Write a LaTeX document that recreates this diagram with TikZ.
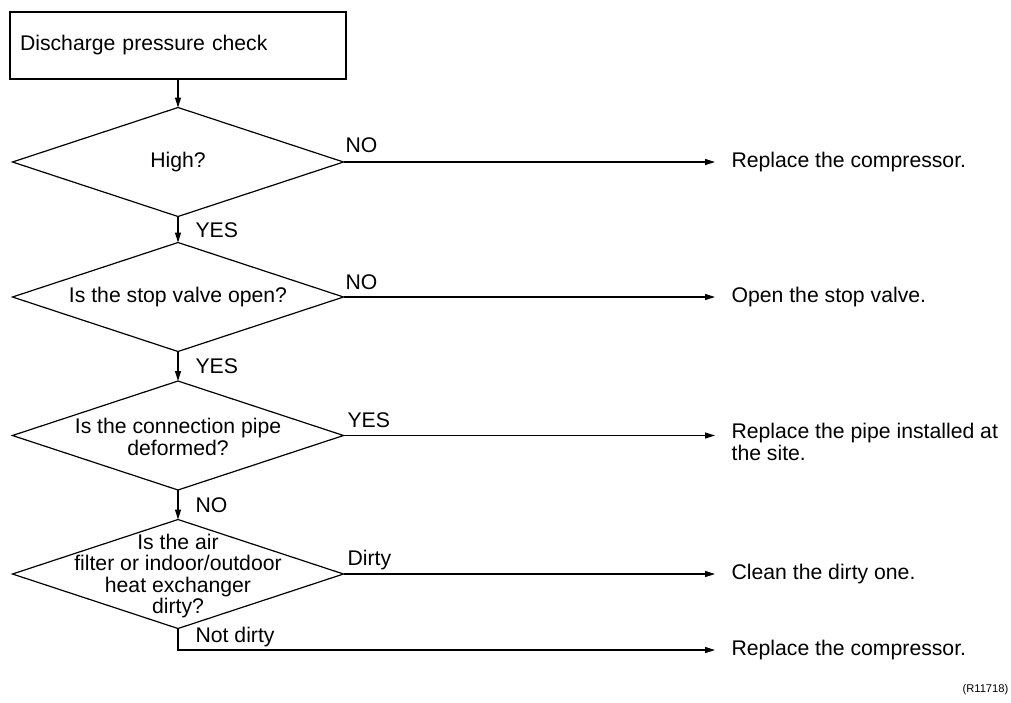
\documentclass[tikz,border=0pt]{standalone}
\usepackage{fontspec}
\setmainfont{Liberation Sans}
\usetikzlibrary{shapes.geometric,arrows.meta}
\begin{document}
\begin{tikzpicture}[x=0.5pt,y=-0.5pt,
  font=\fontsize{10.6}{10.6}\selectfont,
  line width=0.6pt,
  startbox/.style={draw, minimum height=33.5pt, text width=158pt, inner xsep=5pt, inner ysep=0pt, align=left, outer sep=0pt},
  dia/.style={draw, diamond, minimum width=165.5pt, minimum height=54.5pt, inner sep=0pt, outer sep=0pt},
  qtext/.style={align=center, inner sep=0pt},
  result/.style={anchor=west, inner xsep=8pt, inner ysep=0pt, align=left},
  lbl/.style={anchor=west, inner sep=0pt},
  arr/.style={-{Triangle[length=5pt,width=3pt]}}]
\useasboundingbox (0,0) rectangle (1011,702);

\node[startbox] (start) at (178,45.5) {Discharge pressure check};

\node[dia] (d1) at (178,162) {};
\node[qtext] (t1) at (d1) {High?};
\node[dia] (d2) at (178,297) {};
\node[qtext] (t2) at (d2) {Is the stop valve open?};
\node[dia] (d3) at (178,435.5) {};
\node[qtext] (t3) at (178,437) {Is the connection pipe\\deformed?};
\node[dia] (d4) at (178,574) {};
\node[qtext] (t4) at (178,576) {Is the air\\filter or indoor/outdoor\\heat exchanger\\dirty?};

\node[result] (r1) at (715,162) {Replace the compressor.};
\node[result] (r2) at (715,297) {Open the stop valve.};
\node[result] (r3) at (715,442) {Replace the pipe installed at\\the site.};
\node[result] (r4) at (715,574) {Clean the dirty one.};
\node[result] (r5) at (715,650) {Replace the compressor.};

\node[lbl] (n1) at (345,145) {NO};
\node[lbl] (y1) at (195,230) {YES};
\node[lbl] (n2) at (345,282) {NO};
\node[lbl] (y2) at (195,366) {YES};
\node[lbl] (y3) at (347,420) {YES};
\node[lbl] (n3) at (195,505) {NO};
\node[lbl] (dt) at (347,560) {Dirty};
\node[lbl] (nd) at (195,637) {Not dirty};

\node[anchor=east, inner sep=0pt, font=\fontsize{5.6}{6}\selectfont] (ref) at (1009,690) {(R11718)};

\draw[arr] (start.south) -- (d1.north);
\draw[arr] (d1.south) -- (d2.north);
\draw[arr] (d2.south) -- (d3.north);
\draw[arr] (d3.south) -- (d4.north);

\draw[arr] (d1.east) -- (r1.west);
\draw[arr] (d2.east) -- (r2.west);
\draw[arr] (d3.east) -- (d3.east -| r3.west);
\draw[arr] (d4.east) -- (r4.west);
\draw[arr] (d4.south) |- (r5.west);
\end{tikzpicture}
\end{document}
